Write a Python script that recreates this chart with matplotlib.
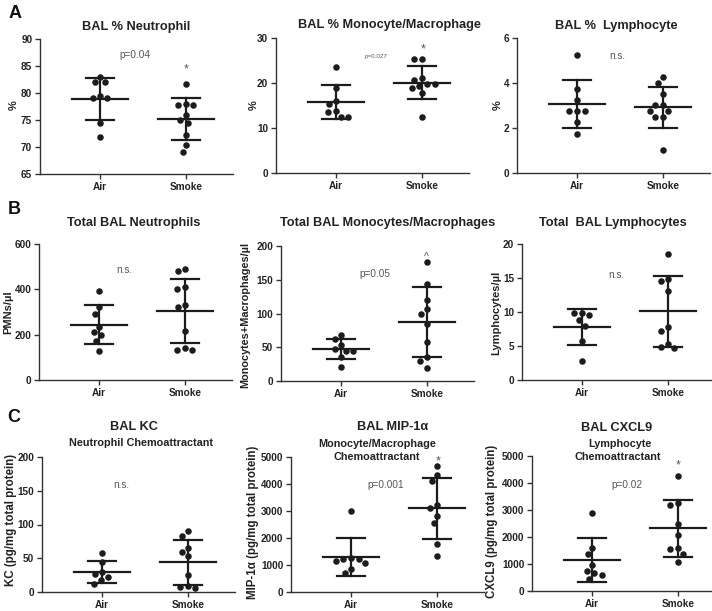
import numpy as np
import matplotlib
matplotlib.use("Agg")
import matplotlib.pyplot as plt

plt.rcParams['font.family'] = ['Liberation Sans', 'DejaVu Sans']

groups = ["Air", "Smoke"]

# A - BAL differential (%)
neut_pct_air = [83.0, 82.0, 82.0, 79.5, 79.0, 79.0, 74.5, 71.8]
neut_pct_smoke = [81.7, 78.0, 77.7, 77.7, 76.0, 75.0, 74.5, 72.2, 70.3, 69.0]
mono_pct_air = [23.5, 18.8, 16.0, 15.3, 13.7, 13.5, 12.4, 12.4]
mono_pct_smoke = [25.3, 25.3, 21.0, 20.7, 19.8, 19.8, 19.4, 18.9, 17.7, 12.5]
lymph_pct_air = [5.25, 3.75, 3.25, 2.75, 2.75, 2.75, 2.25, 1.75]
lymph_pct_smoke = [4.25, 4.0, 3.5, 3.0, 3.0, 2.75, 2.75, 2.5, 2.5, 1.0]

# B - total cell counts (/ul)
neut_tot_air = [393, 322, 293, 233, 210, 197, 170, 130]
neut_tot_smoke = [490, 479, 410, 403, 332, 322, 217, 140, 133, 133]
mono_tot_air = [68, 62, 54, 47, 45, 44, 35, 21]
mono_tot_smoke = [176, 143, 120, 107, 99, 84, 58, 36, 30, 20]
lymph_tot_air = [9.8, 9.6, 9.85, 8.8, 8.0, 5.8, 2.8]
lymph_tot_smoke = [18.6, 14.85, 14.5, 13.1, 7.84, 7.25, 5.25, 4.66, 4.85]

# C - chemokines (pg/mg total protein)
kc_air = [58, 45, 29.5, 26, 22, 18, 12.3]
kc_smoke = [90, 82.6, 65.9, 59, 53, 25, 8.4, 6.4, 7.4]
mip_air = [2990, 1260, 1235, 1210, 1150, 1075, 865, 715]
mip_smoke = [4667, 4346, 4123, 3210, 3123, 2802, 2543, 1765, 1333]
cxcl9_air = [2900, 1600, 1360, 960, 750, 650, 590, 440]
cxcl9_smoke = [4250, 3270, 3200, 2500, 2070, 1575, 1540, 1370, 1060]

W, H = 712, 611
fig = plt.figure(figsize=(W / 100, H / 100), dpi=100)
XLIM = (0.3, 2.55)
AX_W = 193
INK = '#1c1c1c'
GREY = '#555555'


def swarm(vals, ylim, h_px, px_per_unit, d=7.6):
    # simple beeswarm in pixel space, returns x offsets in data units
    ypx = (np.array(vals, float) - ylim[0]) / (ylim[1] - ylim[0]) * h_px
    xs = np.zeros(len(vals))
    placed = []
    for i in np.argsort(-ypx, kind='stable'):
        y = ypx[i]
        cands = [0.0]
        for (px_, py_) in placed:
            dy = abs(y - py_)
            if dy < d:
                dx = np.sqrt(d * d - dy * dy)
                cands += [px_ - dx, px_ + dx]
        cands.sort(key=lambda c: (abs(c), c))
        for c in cands:
            if all((c - a) ** 2 + (y - b) ** 2 >= d * d - 1e-6 for a, b in placed):
                xs[i] = c
                break
        placed.append((xs[i], y))
    return xs / px_per_unit


def panel(left, top, bottom, air, smoke, ylim, yticks):
    ax = fig.add_axes([left / W, 1 - bottom / H, AX_W / W, (bottom - top) / H])
    ax.set_xlim(*XLIM)
    ax.set_ylim(*ylim)
    ppu = AX_W / (XLIM[1] - XLIM[0])
    for i, vals in enumerate([air, smoke]):
        x0 = i + 1
        off = swarm(vals, ylim, bottom - top, ppu)
        ax.scatter(x0 + off, vals, s=22, color=INK, zorder=3, linewidths=0)
        m = np.mean(vals)
        sd = np.std(vals, ddof=1)
        ax.plot([x0 - 0.33, x0 + 0.33], [m, m], color=INK, lw=1.6, zorder=2)
        ax.plot([x0, x0], [m - sd, m + sd], color=INK, lw=1.6, zorder=2)
        for yy in (m - sd, m + sd):
            ax.plot([x0 - 0.165, x0 + 0.165], [yy, yy], color=INK, lw=1.6, zorder=2)
    for s in ['top', 'right']:
        ax.spines[s].set_visible(False)
    for s in ['left', 'bottom']:
        ax.spines[s].set_color('#333333')
        ax.spines[s].set_linewidth(1.0)
    ax.set_xticks([1, 2])
    ax.set_xticklabels(groups)
    ax.set_yticks(yticks)
    ax.tick_params(direction='out', length=3.5, width=1, colors='#333333',
                   labelsize=7.2, pad=2, labelcolor='#222222')
    for lab in ax.get_xticklabels() + ax.get_yticklabels():
        lab.set_fontweight('bold')
    return ax


def ftext(x, y, s, **kw):
    fig.text(x / W, 1 - y / H, s, ha='center', va='center', **kw)


def ylab(x, y, s, size=8):
    ftext(x, y, s, rotation=90, fontsize=size, fontweight='bold', color='#222222')


def note(ax, x, y, s, size=7.2):
    ax.text(x, y, s, ha='center', va='center', fontsize=size, color=GREY)


# row A
a1 = panel(40, 39, 174, neut_pct_air, neut_pct_smoke, (65, 90), range(65, 91, 5))
a2 = panel(276, 38, 173, mono_pct_air, mono_pct_smoke, (0, 30), range(0, 31, 10))
a3 = panel(517, 38, 173, lymph_pct_air, lymph_pct_smoke, (0, 6), range(0, 7, 2))
note(a1, 1.41, 87.0, "p=0.04")
note(a1, 2.0, 84.3, "*", 9)
note(a2, 1.47, 25.8, "p=0.027", 4.5)
note(a2, 2.02, 27.4, "*", 9)
note(a3, 1.47, 5.2, "n.s.")

# row B
b1 = panel(39, 244, 380, neut_tot_air, neut_tot_smoke, (0, 600), range(0, 601, 200))
b2 = panel(281, 246, 381, mono_tot_air, mono_tot_smoke, (0, 200), range(0, 201, 50))
b3 = panel(522, 244, 380, lymph_tot_air, lymph_tot_smoke, (0, 20), range(0, 21, 5))
note(b1, 1.29, 485, "n.s.")
note(b2, 1.40, 158, "p=0.05")
note(b2, 2.0, 183, "^", 7.5)
note(b3, 1.40, 15.4, "n.s.")

# row C
c1 = panel(42, 457, 592, kc_air, kc_smoke, (0, 200), range(0, 201, 50))
c2 = panel(291, 457, 592, mip_air, mip_smoke, (0, 5000), range(0, 5001, 1000))
c3 = panel(532, 456, 591, cxcl9_air, cxcl9_smoke, (0, 5000), range(0, 5001, 1000))
note(c1, 1.22, 158, "n.s.")
note(c2, 1.40, 3960, "p=0.001")
note(c2, 2.01, 4850, "*", 9)
note(c3, 1.41, 3925, "p=0.02")
note(c3, 2.0, 4650, "*", 9)

# titles
tkw = dict(fontsize=9.2, fontweight='bold', color='#222222')
ftext(136, 27, "BAL % Neutrophil", **tkw)
ftext(390, 25, "BAL % Monocyte/Macrophage", **tkw)
ftext(616, 26, "BAL %  Lymphocyte", **tkw)
ftext(134, 223, "Total BAL Neutrophils", **tkw)
ftext(388, 223, "Total BAL Monocytes/Macrophages", **tkw)
ftext(613, 223, "Total  BAL Lymphocytes", **tkw)
ftext(134, 427, "BAL KC", **tkw)
ftext(393, 427, "BAL MIP-1α", **tkw)
ftext(617, 428, "BAL CXCL9", **tkw)
skw = dict(fontsize=7.8, fontweight='bold', color='#222222')
ftext(141, 443, "Neutrophil Chemoattractant", **skw)
ftext(377, 444, "Monocyte/Macrophage", **skw)
ftext(377, 457, "Chemoattractant", **skw)
ftext(620, 444, "Lymphocyte", **skw)
ftext(618, 457, "Chemoattractant", **skw)

# y labels
ylab(14, 105, "%")
ylab(254, 105, "%")
ylab(498, 105, "%")
ylab(8, 312, "PMNs/µl")
ylab(245, 315, "Monocytes+Macrophages/µl", 7.8)
ylab(496, 313, "Lymphocytes/µl")
ylab(11, 520, "KC (pg/mg total protein)", 8.3)
ylab(253, 522, "MIP-1α (pg/mg total protein)", 8.3)
ylab(492, 521, "CXCL9 (pg/mg total protein)", 8.3)

# panel letters
for lx, ly, s in [(15, 13, "A"), (14, 210, "B"), (14, 417, "C")]:
    ftext(lx, ly, s, fontsize=13, fontweight='bold', color='#111111')

fig.savefig("out.png", dpi=100)
